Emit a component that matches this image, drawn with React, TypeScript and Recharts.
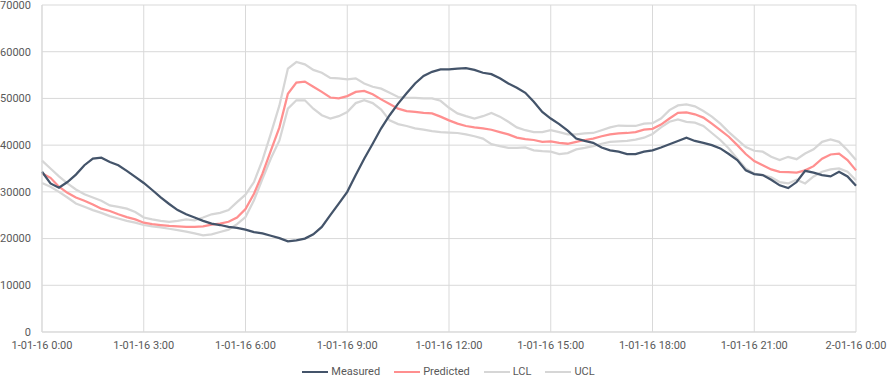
import { LineChart, Line, XAxis, YAxis, CartesianGrid, Legend } from "recharts";

if (typeof document !== "undefined") document.body.style.margin = "0";

// quarter-hourly readings, 1-01-16 0:00 .. 2-01-16 0:00 (one row = 3 hours)
const STEP_HOURS = 0.25;

const MEASURED = [
  34300, 31800, 30900, 32100, 33700, 35700, 37100, 37300, 36400, 35700, 34500, 33200,
  31900, 30400, 28800, 27400, 26100, 25200, 24500, 23800, 23200, 22900, 22500, 22300,
  21900, 21400, 21100, 20600, 20100, 19400, 19600, 20000, 20900, 22500, 25000, 27500,
  30000, 33600, 37100, 40300, 43600, 46400, 48900, 51100, 53200, 54800, 55700, 56200,
  56200, 56400, 56500, 56100, 55500, 55200, 54300, 53200, 52300, 51200, 49300, 47100,
  45700, 44500, 43100, 41400, 40900, 40500, 39500, 38900, 38600, 38100, 38100, 38600,
  38900, 39500, 40200, 40900, 41600, 40900, 40500, 40000, 39300, 38100, 36800, 34600,
  33800, 33600, 32600, 31400, 30800, 32100, 34500, 34100, 33600, 33300, 34300, 33300,
  31300,
];

const PREDICTED = [
  34000, 33000, 31100, 29800, 28800, 28100, 27300, 26400, 25900, 25200, 24600, 24100,
  23400, 23100, 22900, 22700, 22600, 22500, 22500, 22600, 23000, 23200, 23600, 24500,
  26300, 29600, 33900, 38900, 43800, 51000, 53400, 53600, 52500, 51400, 50200, 50000,
  50500, 51400, 51600, 50900, 49800, 48800, 47800, 47300, 47100, 46900, 46800, 46100,
  45300, 44600, 44100, 43800, 43600, 43300, 42800, 42300, 41600, 41300, 41100, 40700,
  40800, 40500, 40300, 40700, 41100, 41400, 41900, 42300, 42500, 42600, 42800, 43300,
  43500, 44400, 45700, 46900, 47000, 46600, 45900, 44600, 43200, 41800, 40000, 38100,
  36600, 35700, 34800, 34300, 34200, 34100, 34600, 35500, 37100, 38000, 38200, 36800,
  34600,
];

const LCL = [
  31900, 31100, 30000, 28800, 27500, 26800, 26100, 25500, 24800, 24300, 23800, 23400,
  22900, 22600, 22400, 22100, 21800, 21500, 21100, 20700, 20900, 21400, 21900, 23100,
  24600, 28200, 32800, 37200, 41000, 47800, 49600, 49600, 47800, 46400, 45700, 46200,
  47100, 49000, 49600, 49000, 47600, 45300, 44500, 44100, 43600, 43300, 43000, 42800,
  42700, 42600, 42300, 41900, 41400, 40200, 39800, 39400, 39400, 39500, 38900, 38700,
  38600, 38100, 38300, 39100, 39400, 39800, 40300, 40700, 40800, 40900, 41200, 41600,
  42400, 43800, 45000, 45500, 45000, 44800, 44100, 42600, 41100, 39300, 37100, 35000,
  33900, 33600, 33100, 32100, 31800, 32600, 31800, 33300, 34300, 34800, 35000, 34300,
  32500,
];

const UCL = [
  36700, 35000, 33300, 31800, 30500, 29500, 28800, 28100, 27100, 26800, 26400, 25700,
  24500, 24100, 23800, 23600, 23800, 24100, 23900, 24500, 25200, 25500, 26100, 27800,
  29400, 32100, 36800, 42500, 48500, 56400, 57800, 57300, 56100, 55500, 54400, 54300,
  54100, 54300, 53200, 52500, 52100, 51200, 50300, 50100, 50100, 50000, 50000, 49500,
  48000, 46800, 46200, 45700, 46200, 46900, 46100, 45000, 43800, 43200, 42800, 42800,
  43200, 42800, 42300, 42300, 42500, 42600, 43200, 43800, 44200, 44100, 44100, 44600,
  44700, 45700, 47500, 48500, 48700, 48300, 47300, 46100, 44600, 42800, 41200, 39600,
  38800, 38600, 37500, 36800, 37500, 37000, 38200, 39100, 40700, 41200, 40700, 38900,
  36800,
];

const X_TICKS = [0, 3, 6, 9, 12, 15, 18, 21, 24];
const X_TICK_LABELS = [
  "1-01-16 0:00",
  "1-01-16 3:00",
  "1-01-16 6:00",
  "1-01-16 9:00",
  "1-01-16 12:00",
  "1-01-16 15:00",
  "1-01-16 18:00",
  "1-01-16 21:00",
  "2-01-16 0:00",
];
const Y_TICKS = [0, 10000, 20000, 30000, 40000, 50000, 60000, 70000];

const SERIES = [
  { key: "measured", name: "Measured", color: "#44546a" },
  { key: "predicted", name: "Predicted", color: "#ff8f8f" },
  { key: "lcl", name: "LCL", color: "#d6d6d6" },
  { key: "ucl", name: "UCL", color: "#d6d6d6" },
];

const FONT = "Roboto, 'Liberation Sans', sans-serif";
const TICK = { fill: "#595959", fontSize: 11, fontFamily: FONT };
const GRID = "#d9d9d9";

const data = MEASURED.map((m, i) => ({
  t: i * STEP_HOURS,
  measured: m,
  predicted: PREDICTED[i],
  lcl: LCL[i],
  ucl: UCL[i],
}));

function LegendRow() {
  return (
    <div
      style={{
        boxSizing: "border-box",
        display: "flex",
        justifyContent: "center",
        alignItems: "center",
        height: 16,
        paddingTop: 4,
        paddingLeft: 10,
        gap: 14,
        fontFamily: FONT,
        fontSize: 11,
        lineHeight: "12px",
        color: "#595959",
      }}
    >
      {SERIES.map((s) => (
        <div key={s.key} style={{ display: "flex", alignItems: "center", gap: 3 }}>
          <span style={{ display: "inline-block", width: 26, height: 2.5, background: s.color }} />
          <span>{s.name}</span>
        </div>
      ))}
    </div>
  );
}

export default function App() {
  return (
    <div style={{ width: 887, height: 378, background: "#fff" }}>
      <LineChart width={887} height={378} data={data} margin={{ top: 5, right: 31, left: 0, bottom: 0 }}>
        <CartesianGrid stroke={GRID} strokeWidth={1} />
        <XAxis
          type="number"
          dataKey="t"
          domain={[0, 24]}
          ticks={X_TICKS}
          tickFormatter={(v: number) => X_TICK_LABELS[X_TICKS.indexOf(v)]}
          tick={TICK}
          tickLine={false}
          axisLine={{ stroke: GRID }}
          tickMargin={3}
          height={30}
          interval={0}
        />
        <YAxis
          type="number"
          domain={[0, 70000]}
          ticks={Y_TICKS}
          tick={TICK}
          tickLine={false}
          axisLine={{ stroke: GRID }}
          tickMargin={5}
          width={42}
          interval={0}
        />
        <Legend
          verticalAlign="bottom"
          content={() => <LegendRow />}
          wrapperStyle={{ bottom: 0, left: 0, width: 887 }}
        />
        <Line dataKey="lcl" name="LCL" stroke="#d6d6d6" strokeWidth={2.25} dot={false} isAnimationActive={false} />
        <Line dataKey="ucl" name="UCL" stroke="#d6d6d6" strokeWidth={2.25} dot={false} isAnimationActive={false} />
        <Line dataKey="predicted" name="Predicted" stroke="#ff8f8f" strokeWidth={2.25} dot={false} isAnimationActive={false} />
        <Line dataKey="measured" name="Measured" stroke="#44546a" strokeWidth={2.25} dot={false} isAnimationActive={false} />
      </LineChart>
    </div>
  );
}
